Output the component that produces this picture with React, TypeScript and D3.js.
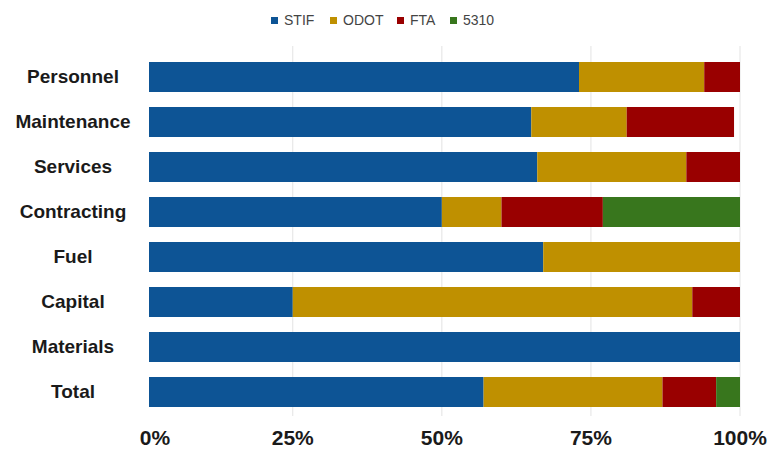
import React from "react";
import * as d3 from "d3";

const categories = ["Personnel", "Maintenance", "Services", "Contracting", "Fuel", "Capital", "Materials", "Total"];
const seriesNames = ["STIF", "ODOT", "FTA", "5310"];
const stif = [0.73, 0.65, 0.66, 0.50, 0.67, 0.25, 1.0, 0.57];
const odot = [0.21, 0.16, 0.25, 0.10, 0.33, 0.67, 0.0, 0.30];
const fta = [0.06, 0.18, 0.09, 0.17, 0.0, 0.08, 0.0, 0.09];
const s5310 = [0.0, 0.0, 0.0, 0.23, 0.0, 0.0, 0.0, 0.04];
const ticks = [0, 0.25, 0.5, 0.75, 1];
const colors = ["#0D5495", "#BF9000", "#990000", "#38761D"];

const W = 774;
const H = 450;
const gridLeft = 143.7;
const barLeft = 149;
const right = 740;

export default function App() {
  const rows = categories.map((c, i) => ({
    cat: c,
    STIF: stif[i],
    ODOT: odot[i],
    FTA: fta[i],
    "5310": s5310[i],
  }));
  const stack = d3.stack<any>().keys(seriesNames)(rows);
  const x = d3.scaleLinear().domain([0, 1]).range([gridLeft, right]);
  const y = d3
    .scaleBand<string>()
    .domain(categories)
    .range([54.5, 414.5])
    .paddingInner(1 / 3)
    .paddingOuter(1 / 6);
  const fmt = d3.format(".0%");
  const font = "'Liberation Sans', Arial, sans-serif";

  const legendItems = [
    { name: "STIF", x: 271 },
    { name: "ODOT", x: 330 },
    { name: "FTA", x: 397 },
    { name: "5310", x: 450 },
  ];

  return (
    <svg width={W} height={H} style={{ position: "absolute", left: 0, top: 0 }} fontFamily={font}>
      <rect width={W} height={H} fill="#fff" />
      {ticks.slice(1).map((t) => (
        <line key={t} x1={x(t)} x2={x(t)} y1={46} y2={416} stroke="#e3e3e3" strokeWidth={1} />
      ))}
      {stack.map((s, si) => (
        <g key={s.key} fill={colors[si]}>
          {s.map((d, i) => {
            const x0 = Math.max(x(d[0]), barLeft);
            const x1 = x(d[1]);
            if (x1 - x0 <= 0) return null;
            return (
              <rect key={i} x={x0} y={y(categories[i])} width={x1 - x0} height={y.bandwidth()} />
            );
          })}
        </g>
      ))}
      {categories.map((c) => (
        <text
          key={c}
          x={73}
          y={(y(c) as number) + y.bandwidth() / 2 - 1}
          dy="0.35em"
          textAnchor="middle"
          fontSize={19}
          fontWeight="bold"
          fill="#1a1a1a"
        >
          {c}
        </text>
      ))}
      {ticks.map((t) => (
        <text
          key={t}
          x={Math.max(x(t), 155)}
          y={445}
          textAnchor="middle"
          fontSize={21}
          fontWeight="bold"
          fill="#1a1a1a"
        >
          {fmt(t)}
        </text>
      ))}
      {legendItems.map((l, i) => (
        <g key={l.name}>
          <rect x={l.x} y={17} width={7} height={7} fill={colors[i]} />
          <text x={l.x + 13} y={25} fontSize={14} fill="#444">
            {l.name}
          </text>
        </g>
      ))}
    </svg>
  );
}
